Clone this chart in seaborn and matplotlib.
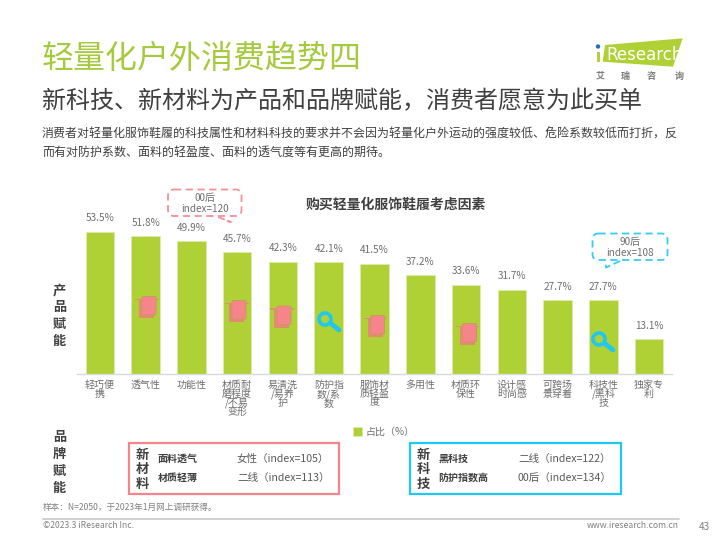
import matplotlib
matplotlib.use("Agg")
import matplotlib.pyplot as plt
from matplotlib.patches import FancyBboxPatch, Rectangle, Polygon, Circle
import pandas as pd
import seaborn as sns

categories = ["轻巧便\n携", "透气性", "功能性", "材质耐\n磨程度\n/不易\n变形", "易清洗\n/易养\n护",
              "防护指\n数/系\n数", "服饰材\n质轻盈\n度", "多用性", "材质环\n保性", "设计感\n时尚感",
              "可跨场\n景穿着", "科技性\n/黑科\n技", "独家专\n利"]
values = [53.5, 51.8, 49.9, 45.7, 42.3, 42.1, 41.5, 37.2, 33.6, 31.7, 27.7, 27.7, 13.1]
series_name = "占比（%）"
chart_title = "购买轻量化服饰鞋履考虑因素"

GREEN = "#b0d135"
PINK = "#f5848b"
BLUE = "#1fc8f0"
DARK = "#404040"
GRAY = "#6e6e6e"

sns.set_theme(style="white")
plt.rcParams["font.family"] = ["Noto Sans CJK SC", "DejaVu Sans"]

fig = plt.figure(figsize=(7.2, 5.4), dpi=100)
ax = fig.add_axes([77 / 720, (540 - 374.3) / 540, 595 / 720, 160 / 540])
df = pd.DataFrame({"cat": categories, "val": values})
sns.barplot(data=df, x="cat", y="val", color=GREEN, saturation=1, width=0.625, ax=ax,
            label=series_name, edgecolor="#dcebb0", linewidth=0.6)
ax.set_ylim(0, 60)
ax.set_xlim(-0.5, 12.5)
ax.set_xlabel("")
ax.set_ylabel("")
ax.set_yticks([])
sns.despine(ax=ax, left=True)
ax.spines["bottom"].set_color("#d9d9d9")
ax.spines["bottom"].set_linewidth(1)
ax.tick_params(axis="x", length=0, pad=4, labelsize=7.2, labelcolor=GRAY)
for t in ax.get_xticklabels():
    t.set_linespacing(0.86)
    t.set_verticalalignment("top")
ax.bar_label(ax.containers[0], fmt="%.1f%%", padding=6, fontsize=7.2, color=GRAY)
ax.patch.set_alpha(0)
leg = ax.legend(loc="center", bbox_to_anchor=(384 / 720, (540 - 432) / 540),
                bbox_transform=fig.transFigure, frameon=False, fontsize=7.2,
                handlelength=0.9, handleheight=0.9, handletextpad=0.3,
                labelcolor=GRAY)

# Page furniture in pixel coordinates
ov = fig.add_axes([0, 0, 1, 1], zorder=5)
ov.set_xlim(0, 720)
ov.set_ylim(540, 0)
ov.axis("off")


def txt(x, y, s, size, color=DARK, ha="left", va="center", weight="normal", **kw):
    ov.text(x, y, s, fontsize=size, color=color, ha=ha, va=va, fontweight=weight, **kw)


txt(42, 59, "轻量化户外消费趋势四", 23, color="#a6ca3e")
txt(42, 101, "新科技、新材料为产品和品牌赋能，消费者愿意为此买单", 17.3)
txt(42, 134, "消费者对轻量化服饰鞋履的科技属性和材料科技的要求并不会因为轻量化户外运动的强度较低、危险系数较低而打折，反", 8.64)
txt(42, 152, "而有对防护系数、面料的轻盈度、面料的透气度等有更高的期待。", 8.64)
txt(396, 205, chart_title, 10, ha="center", weight="bold")

# Logo
ov.add_patch(Polygon([(605, 45), (682.7, 38.3), (673, 66.7), (602.7, 61.7)], color="#b0d135", lw=0))
ov.add_patch(Rectangle((596.5, 52), 3.2, 10, color="#b5cf3e", lw=0))
ov.add_patch(Circle((598, 46.5), 2.2, color="#2a6db5", lw=0))
txt(606, 54.5, "Research", 12, color="white", family="DejaVu Sans")
for x, c in zip([600, 625, 651, 679], "艾瑞咨询"):
    txt(x, 76, c, 6.5, color="#7a7a7a", ha="center", weight="bold")

# Side labels
for y, c in zip([290, 307, 324, 341], "产品赋能"):
    txt(59.5, y, c, 9.5, ha="center", weight="bold")
for y, c in zip([437, 454, 471, 488], "品牌赋能"):
    txt(59.5, y, c, 9.5, ha="center", weight="bold")


def callout(x0, y0, x1, y1, tail, color, lines):
    ov.add_patch(FancyBboxPatch((x0, y0), x1 - x0, y1 - y0, boxstyle="round,pad=0,rounding_size=6",
                                fc="white", ec=color, lw=1.3, ls=(0, (4, 2.5))))
    ov.plot(tail[0], tail[1], color=color, lw=1.3, ls=(0, (4, 2)))
    cx = (x0 + x1) / 2
    txt(cx, y0 + 8.5, lines[0], 7.2, color=GRAY, ha="center")
    txt(cx, y0 + 20, lines[1], 7.2, color=GRAY, ha="center")


callout(168, 189.5, 241.5, 216, ([218, 231, 226], [217, 222, 221]), "#f5919a", ["00后", "index=120"])
callout(592.5, 233.5, 667.5, 260, ([620, 606, 606], [261, 267.5, 262]), "#35cdf2", ["90后", "index=108"])


def box(x0, x1, color, head, rows):
    ov.add_patch(Rectangle((x0, 442.5), x1 - x0, 51.5, fc="white", ec=color, lw=1.6))
    for y, c in zip([454.5, 469, 483.5], head):
        txt(x0 + 13.5, y, c, 9.5, ha="center", weight="bold")
    for y, (a, b) in zip([458.5, 477.5], rows):
        txt(x0 + 28.5, y, a, 7.2, weight="bold")
        txt(x0 + 108, y, b, 7.6, color="#595959")


box(129, 339, "#f5848b", "新材料", [("面料透气", "女性（index=105）"), ("材质轻薄", "二线（index=113）")])
box(410, 621, "#1fc8f0", "新科技", [("黑科技", "二线（index=122）"), ("防护指数高", "00后（index=134）")])


def towel(cx, cy):
    edge = "#c79a5e"
    ov.add_patch(Rectangle((cx - 8, cy - 7.5), 15, 18.5, fc="#e58a72", ec="none", zorder=6))
    ov.add_patch(Rectangle((cx - 11.7, cy - 8.2), 23.4, 1.4, fc="#e0906e", ec="none", zorder=6))
    ov.add_patch(FancyBboxPatch((cx - 5, cy - 10.5), 14, 18.5, boxstyle="round,pad=0,rounding_size=1.5",
                                fc=PINK, ec=edge, lw=0.7, zorder=7))


def magnifier(cx, cy):
    ov.plot([cx + 2, cx + 9.5], [cy + 2, cy + 8], color=BLUE, lw=3.4, solid_capstyle="round", zorder=6)
    ov.add_patch(Circle((cx - 4.5, cy - 3), 6, fc="none", ec=BLUE, lw=2.6, zorder=7))


for c in [(147, 307), (237, 311), (282, 316.5), (375.5, 326), (467.5, 334)]:
    towel(*c)
for c in [(329.5, 322), (603.5, 342)]:
    magnifier(*c)

# Footer
txt(43, 507.5, "样本：N=2050，于2023年1月网上调研获得。", 6.2, color="#808080")
ov.plot([43, 679], [519, 519], color="#c8c8c8", lw=1.2)
txt(43, 526, "©2023.3 iResearch Inc.", 6.2, color="#808080")
txt(679, 526, "www.iresearch.com.cn", 6.2, color="#808080", ha="right")
txt(710, 527, "43", 7.2, color="#808080", ha="right")

fig.savefig("out.png", dpi=100)
